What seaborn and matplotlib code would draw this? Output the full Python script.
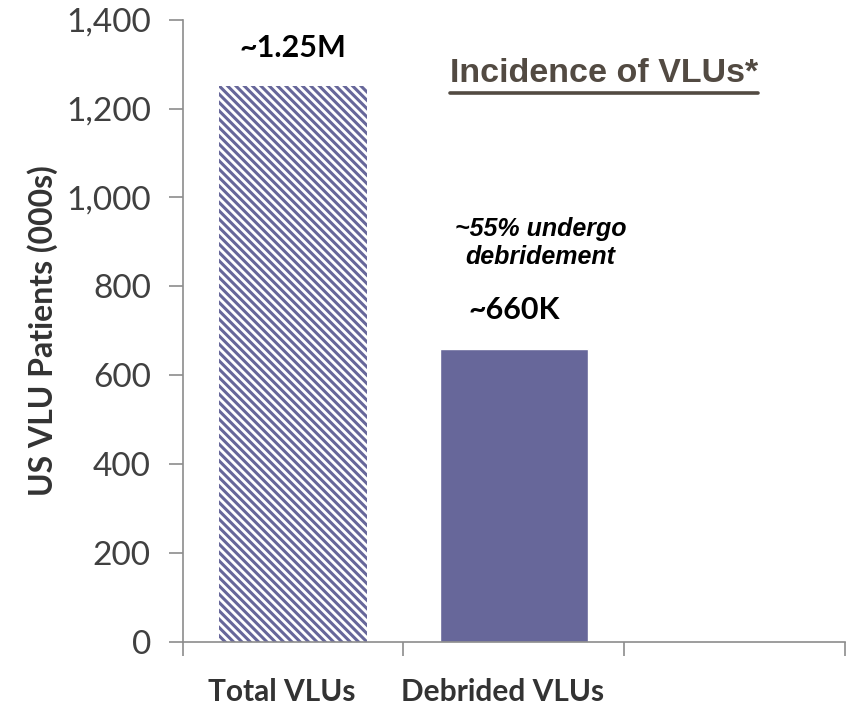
import matplotlib
matplotlib.use('Agg')
import matplotlib.pyplot as plt
import seaborn as sns
import pandas as pd
from matplotlib.lines import Line2D

categories = ['Total VLUs', 'Debrided VLUs']
slots = ['Total VLUs', 'Debrided VLUs', '']
patients = [1250, 660]
bar_labels = ['~1.25M', '~660K']
y_ticks = [0, 200, 400, 600, 800, 1000, 1200, 1400]

df = pd.DataFrame({'category': categories, 'patients': patients})

sns.set_style('white')
plt.rcParams['font.family'] = ['Lato', 'DejaVu Sans']
plt.rcParams['hatch.linewidth'] = 2.2

fig = plt.figure(figsize=(8.5, 7.06), dpi=100)
ax = fig.add_axes([0.215, 0.091, 0.779, 0.881])

sns.barplot(data=df, x='category', y='patients', order=slots, color='#67679a',
            width=0.67, saturation=1, ax=ax)

# hatched first bar
p0 = ax.patches[0]
p0.set_facecolor('white')
p0.set_edgecolor('#67679a')
p0.set_hatch(r'\\\\')
p0.set_linewidth(0)

ax.set_xlim(-0.5, 2.5)
ax.set_ylim(0, 1400)
ax.set_yticks(y_ticks)
ax.set_yticklabels([f'{v:,}' for v in y_ticks], fontsize=24, color='#404040')

ax.set_xticks([-0.5, 0.5, 1.5, 2.5])
ax.set_xticklabels([])
ax.set_xticks([-0.05, 0.95], minor=True)
ax.set_xticklabels(categories, minor=True, fontsize=21.5, fontweight='bold', color='#333333')
ax.tick_params(axis='x', which='major', direction='out', length=10, width=1.2, color='#8c8c8c', bottom=True)
ax.tick_params(axis='x', which='minor', length=0, pad=26)
ax.tick_params(axis='y', direction='out', length=10, width=1.2, color='#8c8c8c', left=True, pad=13)

for side in ['top', 'right']:
    ax.spines[side].set_visible(False)
for side in ['left', 'bottom']:
    ax.spines[side].set_color('#8c8c8c')
    ax.spines[side].set_linewidth(1.2)

ax.set_xlabel('')
ax.set_ylabel('US VLU Patients (000s)', fontsize=23, fontweight='bold', color='#333333', labelpad=6)

for i, (v, lab) in enumerate(zip(patients, bar_labels)):
    ax.text(i, v + 55, lab, ha='center', va='bottom', fontsize=22, fontweight='bold', color='black')

ax.text(1.12, 898, '~55% undergo\ndebridement', ha='center', va='center', fontsize=18,
        fontweight='bold', fontstyle='italic', color='black', linespacing=1.2,
        family=['Liberation Sans', 'DejaVu Sans'])

title = ax.text(1.41, 1280, 'Incidence of VLUs*', ha='center', va='center', fontsize=24.5,
                fontweight='bold', color='#524a42',
                family=['Liberation Sans', 'DejaVu Sans'])

fig.canvas.draw()
bb = title.get_window_extent().transformed(fig.transFigure.inverted())
fig.add_artist(Line2D([bb.x0, bb.x1], [bb.y0 - 0.006, bb.y0 - 0.006], color='#524a42',
                      linewidth=2.6, transform=fig.transFigure))

fig.savefig('out.png', dpi=100)
